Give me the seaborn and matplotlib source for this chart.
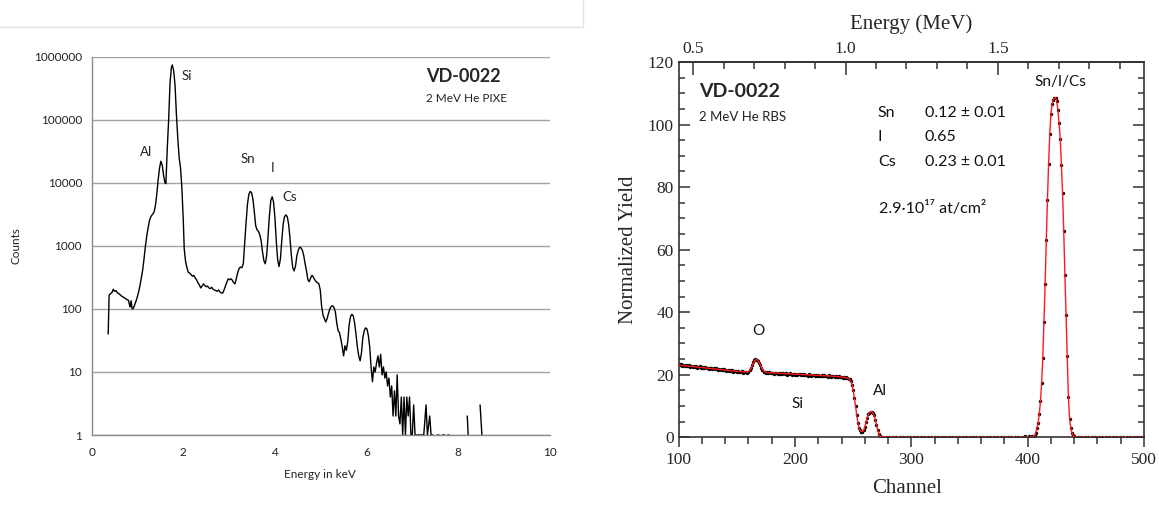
import numpy as np
import matplotlib
matplotlib.use("Agg")
import matplotlib.pyplot as plt
import seaborn as sns
from matplotlib.lines import Line2D
from matplotlib.ticker import MultipleLocator, FixedLocator, NullLocator, FormatStrFormatter

# ---- PIXE spectrum (left panel) ----
pixe_energy = [
    0.36, 0.38, 0.41, 0.44, 0.47, 0.50, 0.53, 0.56, 0.59, 0.62, 0.65, 0.68, 0.71, 0.74, 0.77,
    0.80, 0.82, 0.84, 0.86, 0.88, 0.90, 0.93, 0.96, 0.99, 1.02, 1.05, 1.08, 1.11, 1.14, 1.17,
    1.20, 1.23, 1.26, 1.29, 1.32, 1.36, 1.39, 1.42, 1.45, 1.48, 1.51, 1.54, 1.57, 1.60, 1.62,
    1.65, 1.68, 1.71, 1.74, 1.76, 1.79, 1.82, 1.85, 1.88, 1.91, 1.94, 1.97, 2.00, 2.02, 2.05,
    2.08, 2.11, 2.14, 2.17, 2.20, 2.23, 2.26, 2.29, 2.32, 2.35, 2.38, 2.41, 2.44, 2.47, 2.50,
    2.53, 2.56, 2.59, 2.62, 2.65, 2.68, 2.71, 2.74, 2.77, 2.80, 2.83, 2.86, 2.89, 2.92, 2.95,
    2.98, 3.01, 3.04, 3.07, 3.10, 3.13, 3.16, 3.19, 3.22, 3.25, 3.28, 3.31, 3.34, 3.37, 3.40,
    3.43, 3.46, 3.49, 3.52, 3.55, 3.58, 3.61, 3.64, 3.67, 3.70, 3.73, 3.76, 3.79, 3.82, 3.85,
    3.88, 3.91, 3.94, 3.97, 4.00, 4.03, 4.06, 4.09, 4.12, 4.15, 4.18, 4.21, 4.24, 4.27, 4.30,
    4.33, 4.36, 4.39, 4.42, 4.45, 4.48, 4.51, 4.54, 4.57, 4.60, 4.63, 4.66, 4.69, 4.72, 4.75,
    4.78, 4.81, 4.84, 4.87, 4.90, 4.93, 4.96, 4.99, 5.02, 5.05, 5.08, 5.11, 5.14, 5.17, 5.20,
    5.23, 5.26, 5.29, 5.32, 5.35, 5.38, 5.41, 5.44, 5.47, 5.50, 5.53, 5.56, 5.59, 5.62, 5.65,
    5.68, 5.71, 5.74, 5.77, 5.80, 5.83, 5.86, 5.89, 5.92, 5.95, 5.98, 6.01, 6.04, 6.07, 6.10,
    6.13, 6.16, 6.19, 6.22, 6.25, 6.28, 6.31, 6.34, 6.37, 6.40, 6.43, 6.46, 6.49, 6.52, 6.55,
    6.58, 6.61, 6.64, 6.67, 6.70, 6.73, 6.76, 6.79, 6.82, 6.85, 6.88, 6.91, 6.94, 6.97, 7.00,
    7.03, 7.06, 7.10, 7.15, 7.20, 7.25, 7.30, 7.33, 7.38, 7.41, 7.45, 7.50, 7.55, 7.58, 7.62,
    7.66, 7.70, 7.74, 7.78, 7.80, 7.83, 8.18, 8.20, 8.22, 8.25, 8.45, 8.48, 8.52, 8.55,
]
pixe_counts = [
    40, 165, 175, 180, 205, 190, 195, 180, 175, 168, 160, 155, 150, 146, 140,
    138, 120, 108, 135, 102, 100, 112, 128, 150, 180, 225, 300, 400, 600, 950,
    1400, 1900, 2500, 2900, 3100, 3400, 4300, 6500, 11000, 17000, 22000, 19000, 13000, 10000, 9700,
    35000, 100000, 380000, 680000, 740000, 600000, 350000, 120000, 50000, 25000, 17000, 8000, 2500, 900, 560,
    450, 380, 370, 350, 330, 340, 310, 290, 260, 240, 215, 230, 250, 235, 225,
    230, 215, 210, 220, 205, 200, 195, 190, 200, 185, 180, 178, 200, 230, 265,
    300, 290, 300, 285, 260, 250, 310, 380, 440, 460, 450, 520, 1100, 2300, 4500,
    6500, 7300, 7000, 5500, 3500, 2100, 1800, 1700, 1500, 1200, 800, 580, 520, 700, 1400,
    3000, 5200, 6000, 5000, 2800, 1200, 600, 470, 620, 1200, 2200, 2900, 3100, 2900, 2200,
    1300, 700, 450, 400, 480, 700, 850, 950, 930, 850, 700, 520, 400, 290, 270,
    310, 340, 320, 290, 270, 260, 250, 200, 110, 80, 70, 62, 70, 85, 100,
    110, 112, 105, 90, 60, 45, 42, 33, 25, 18, 26, 22, 30, 55, 75,
    82, 78, 60, 40, 25, 18, 15, 20, 35, 45, 50, 48, 38, 25, 12,
    7, 12, 10, 14, 18, 12, 19, 9, 12, 8, 10, 6, 8, 4, 6,
    2, 5, 2, 9, 2, 1.5, 4, 1, 4, 1, 4, 2, 4, 1, 1,
    3, 1, 1, 1, 1, 1, 3, 1, 2, 1, 1, 0, 1, 1, 0,
    1, 1, 0, 1, 1, 0, 0, 2, 1, 0, 0, 3, 1, 0,
]
pixe_peaks = ["Si", "Al", "Sn", "I", "Cs"]
pixe_peak_x = [1.97, 1.19, 3.41, 3.94, 4.33]
pixe_peak_y = [490000, 30700, 23800, 17100, 5940]
pixe_yticks = [1, 10, 100, 1000, 10000, 100000, 1000000]

# ---- RBS spectrum (right panel) ----
rbs_ch_low = list(range(100, 276))
rbs_low = [
    23.4, 23.0, 23.3, 22.8, 23.1, 22.9, 23.2, 22.7, 22.9, 23.0,
    22.6, 22.9, 22.5, 22.8, 22.4, 22.7, 22.3, 22.6, 22.8, 22.2,
    22.5, 22.3, 22.0, 22.4, 22.1, 22.3, 21.9, 22.2, 22.0, 21.8,
    22.1, 21.7, 22.0, 21.8, 21.5, 21.9, 21.6, 21.8, 21.4, 21.7,
    21.5, 21.3, 21.6, 21.2, 21.5, 21.1, 21.4, 21.0, 21.3, 21.2,
    20.9, 21.2, 21.0, 20.8, 21.1, 20.7, 21.0, 20.8, 20.9, 20.6,
    21.0, 21.4, 22.2, 23.2, 24.0, 24.6, 25.0, 24.8, 24.4, 23.8,
    23.0, 22.2, 21.5, 21.0, 20.8, 20.6, 20.9, 20.5, 20.8, 20.4,
    20.7, 20.5, 20.3, 20.6, 20.4, 20.2, 20.5, 20.3, 20.6, 20.1,
    20.4, 20.2, 20.5, 20.0, 20.3, 20.1, 20.4, 19.9, 20.2, 20.3,
    20.0, 20.2, 19.9, 20.1, 20.3, 19.8, 20.1, 19.9, 20.2, 19.8,
    20.0, 19.7, 20.1, 19.9, 19.6, 20.0, 19.8, 19.7, 20.0, 19.6,
    19.9, 19.7, 19.5, 19.8, 19.6, 19.9, 19.5, 19.7, 19.4, 19.8,
    19.6, 19.4, 19.7, 19.5, 19.3, 19.6, 19.4, 19.2, 19.5, 19.3,
    19.4, 19.1, 19.3, 19.0, 19.2, 18.9, 18.8, 18.5, 18.0, 16.8,
    15.0, 12.6, 10.0, 7.2, 4.6, 3.0, 2.2, 1.8, 1.8, 2.2,
    3.2, 4.8, 6.2, 7.3, 7.9, 8.2, 8.2, 7.8, 7.0, 5.6,
    4.0, 2.4, 1.2, 0.5, 0.2, 0.1,
]
rbs_ch_mid = list(range(278, 405, 3))
rbs_mid = [
    0.1, 0.0, 0.1, 0.0, 0.0, 0.1, 0.0, 0.0, 0.1, 0.0,
    0.0, 0.1, 0.0, 0.0, 0.0, 0.1, 0.2, 0.1, 0.0, 0.0,
    0.1, 0.0, 0.0, 0.1, 0.0, 0.0, 0.0, 0.1, 0.0, 0.0,
    0.1, 0.0, 0.0, 0.1, 0.0, 0.0, 0.1, 0.0, 0.1, 0.2,
    0.3, 0.4, 0.5,
]
rbs_ch_peak = list(range(405, 442))
rbs_peak = [
    0.2, 0.5, 1.5, 3.0, 4.5, 7.5, 11.5, 17.5, 25.5, 37.0,
    49.0, 63.0, 76.0, 87.5, 97.0, 103.5, 106.5, 107.8, 108.5, 108.6,
    107.5, 104.5, 100.5, 95.5, 87.0, 78.0, 66.0, 52.0, 39.0, 26.0,
    13.0, 6.0, 3.0, 1.5, 0.7, 0.3, 0.1,
]
rbs_ch_high = list(range(443, 501, 3))
rbs_high = [
    0.1, 0.0, 0.0, 0.1, 0.0, 0.0, 0.1, 0.0, 0.0, 0.1,
    0.0, 0.0, 0.1, 0.0, 0.0, 0.1, 0.0, 0.0, 0.0, 0.1,
]

# simulated fit (red line)
fit_channel = [100, 110, 120, 130, 140, 150, 158, 160, 162, 164, 166, 167, 168, 170, 172, 174,
               176, 190, 210, 230, 240, 245, 247, 248, 249, 250, 251, 252, 253, 254, 255, 256,
               257, 258, 259, 260, 261, 262, 263, 264, 265, 266, 267, 268, 269, 270, 271, 272,
               273, 274, 276, 404] + rbs_ch_peak + [442, 500]
fit_yield = [23.1, 22.7, 22.3, 21.9, 21.5, 21.1, 20.9, 21.0, 21.8, 23.6, 24.7, 24.9, 24.7, 23.3,
             21.7, 20.9, 20.7, 20.4, 20.0, 19.6, 19.3, 19.0, 18.5, 17.9, 16.8, 15.0, 12.6, 10.0,
             7.3, 4.8, 3.1, 2.2, 1.8, 1.8, 2.2, 3.2, 4.7, 6.2, 7.3, 7.9, 8.2, 8.2, 7.8, 7.0, 5.6,
             4.0, 2.4, 1.2, 0.5, 0.2, 0.0, 0.0] + rbs_peak + [0.0, 0.0]

rbs_peaks = ["O", "Si", "Al", "Sn/I/Cs"]
rbs_peak_x = [168.9, 201.7, 273.0, 427.8]
rbs_peak_y = [34.0, 10.5, 14.8, 113.7]
comp_names = ["Sn", "I", "Cs"]
comp_values = ["0.12 \u00b1 0.01", "0.65", "0.23 \u00b1 0.01"]
comp_y = [103.6, 96.1, 88.1]

# energy calibration of the top axis
E_ZERO_CH = 243.4
CH_PER_MEV = 262.0


def ch2e(ch):
    return 1.0 + (np.asarray(ch) - E_ZERO_CH) / CH_PER_MEV


def e2ch(e):
    return E_ZERO_CH + (np.asarray(e) - 1.0) * CH_PER_MEV


sns.set_style("white")
SANS = ["Lato", "DejaVu Sans"]
SERIF = ["Liberation Serif", "DejaVu Serif"]
plt.rcParams["font.family"] = SANS

W, H = 1159, 508
fig = plt.figure(figsize=(W / 100, H / 100), dpi=100)

# faint frame of the pasted left image
fy = 1 - 26.7 / H
fx = 583.3 / W
fig.add_artist(Line2D([0, fx], [fy, fy], color="#e4e4e4", lw=1.0))
fig.add_artist(Line2D([fx, fx], [fy, 1], color="#e4e4e4", lw=1.0))

# ---------------- left: PIXE ----------------
ax1 = fig.add_axes([91.7 / W, (H - 435) / H, 458 / W, 378.3 / H])
sns.lineplot(x=pixe_energy, y=pixe_counts, ax=ax1, color="black", linewidth=1.0,
             estimator=None, sort=False)
ax1.set_yscale("log", nonpositive="mask")
ax1.set_ylim(1, 1000000)
ax1.set_xlim(0, 10)
ax1.xaxis.set_major_locator(MultipleLocator(2))
ax1.yaxis.set_major_locator(FixedLocator(pixe_yticks))
ax1.yaxis.set_minor_locator(NullLocator())
ax1.set_yticklabels([str(v) for v in pixe_yticks])
ax1.grid(axis="y", color="#a3a3a3", lw=1.0)
ax1.grid(axis="x", visible=False)
ax1.set_axisbelow(True)
for s in ["top", "right"]:
    ax1.spines[s].set_visible(False)
for s in ["left", "bottom"]:
    ax1.spines[s].set_color("#8a8a8a")
    ax1.spines[s].set_linewidth(1.0)
ax1.tick_params(axis="both", which="major", direction="out", length=4, width=1.0,
                color="#8a8a8a", labelsize=8.5, labelcolor="#222222", pad=3)
ax1.tick_params(axis="x", pad=5)
ax1.set_xlabel("Energy in keV", fontsize=8.5, color="#222222")
ax1.set_ylabel("Counts", fontsize=8.5, color="#222222")
ax1.xaxis.set_label_coords(0.498, -0.089)
ax1.yaxis.set_label_coords(-0.153, 0.5)

for name, x, y in zip(pixe_peaks, pixe_peak_x, pixe_peak_y):
    ha = "left" if name == "Si" else "center"
    ax1.text(x, y, name, fontsize=9.5, ha=ha, va="center", color="#222222")
ax1.text(7.31, 10 ** 5.69, "VD-0022", fontsize=13, fontweight="bold", ha="left", va="center")
ax1.text(7.31, 10 ** 5.34, "2 MeV He PIXE", fontsize=8.5, ha="left", va="center",
         color="#222222")

# ---------------- right: RBS ----------------
ax2 = fig.add_axes([678.7 / W, (H - 437.3) / H, 465.3 / W, 375.3 / H])
rbs_ch = rbs_ch_low + rbs_ch_mid + rbs_ch_peak + rbs_ch_high
rbs_y = rbs_low + rbs_mid + rbs_peak + rbs_high
sns.scatterplot(x=rbs_ch, y=rbs_y, ax=ax2, color="black", s=6, linewidth=0, zorder=2)
sns.lineplot(x=fit_channel, y=fit_yield, ax=ax2, color="#ff1a1a", linewidth=1.0,
             estimator=None, sort=False, zorder=3)
ax2.set_xlim(100, 500)
ax2.set_ylim(0, 120)
ax2.xaxis.set_major_locator(MultipleLocator(100))
ax2.xaxis.set_minor_locator(MultipleLocator(20))
ax2.yaxis.set_major_locator(MultipleLocator(20))
ax2.yaxis.set_minor_locator(MultipleLocator(5))
for s in ax2.spines.values():
    s.set_color("#333333")
    s.set_linewidth(1.2)
ax2.tick_params(axis="y", which="both", direction="in", left=True, right=True,
                width=1.1, color="#333333")
ax2.tick_params(axis="y", which="major", length=8)
ax2.tick_params(axis="y", which="minor", length=4)
ax2.tick_params(axis="x", which="both", direction="out", bottom=True, top=False,
                width=1.1, color="#333333")
ax2.tick_params(axis="x", which="major", length=7)
ax2.tick_params(axis="x", which="minor", length=5)
for lab in ax2.get_xticklabels() + ax2.get_yticklabels():
    lab.set_fontfamily(SERIF)
    lab.set_fontsize(12.5)
ax2.set_xlabel("Channel", fontsize=15, fontfamily=SERIF)
ax2.set_ylabel("Normalized Yield", fontsize=15, fontfamily=SERIF)
ax2.xaxis.set_label_coords(0.49, -0.111)
ax2.yaxis.set_label_coords(-0.087, 0.5)

secax = ax2.secondary_xaxis("top", functions=(ch2e, e2ch))
secax.xaxis.set_major_locator(MultipleLocator(0.5))
secax.xaxis.set_minor_locator(MultipleLocator(0.1))
secax.xaxis.set_major_formatter(FormatStrFormatter("%.1f"))
secax.tick_params(which="both", direction="in", width=1.1, color="#333333")
secax.tick_params(which="major", length=9)
secax.tick_params(which="minor", length=5)
secax.spines["top"].set_linewidth(1.2)
for lab in secax.get_xticklabels():
    lab.set_fontfamily(SERIF)
    lab.set_fontsize(12.5)
secax.set_xlabel("Energy (MeV)", fontsize=15, fontfamily=SERIF, labelpad=9)

for name, x, y in zip(rbs_peaks, rbs_peak_x, rbs_peak_y):
    ax2.text(x, y, name, fontsize=11, ha="center", va="center", color="#111111")
ax2.text(117.7, 110.7, "VD-0022", fontsize=14, fontweight="bold", ha="left", va="center")
ax2.text(117.7, 102.4, "2 MeV He RBS", fontsize=9.5, ha="left", va="center", color="#222222")
for name, val, y in zip(comp_names, comp_values, comp_y):
    ax2.text(271.3, y, name, fontsize=11.5, ha="left", va="center", color="#111111")
    ax2.text(311.7, y, val, fontsize=11.5, ha="left", va="center", color="#111111")
ax2.text(272, 73.3, "2.9\u00b710\u00b9\u2077 at/cm\u00b2", fontsize=11.5, ha="left",
         va="center", color="#111111", fontfamily=SANS)

fig.savefig("out.png", dpi=100)
